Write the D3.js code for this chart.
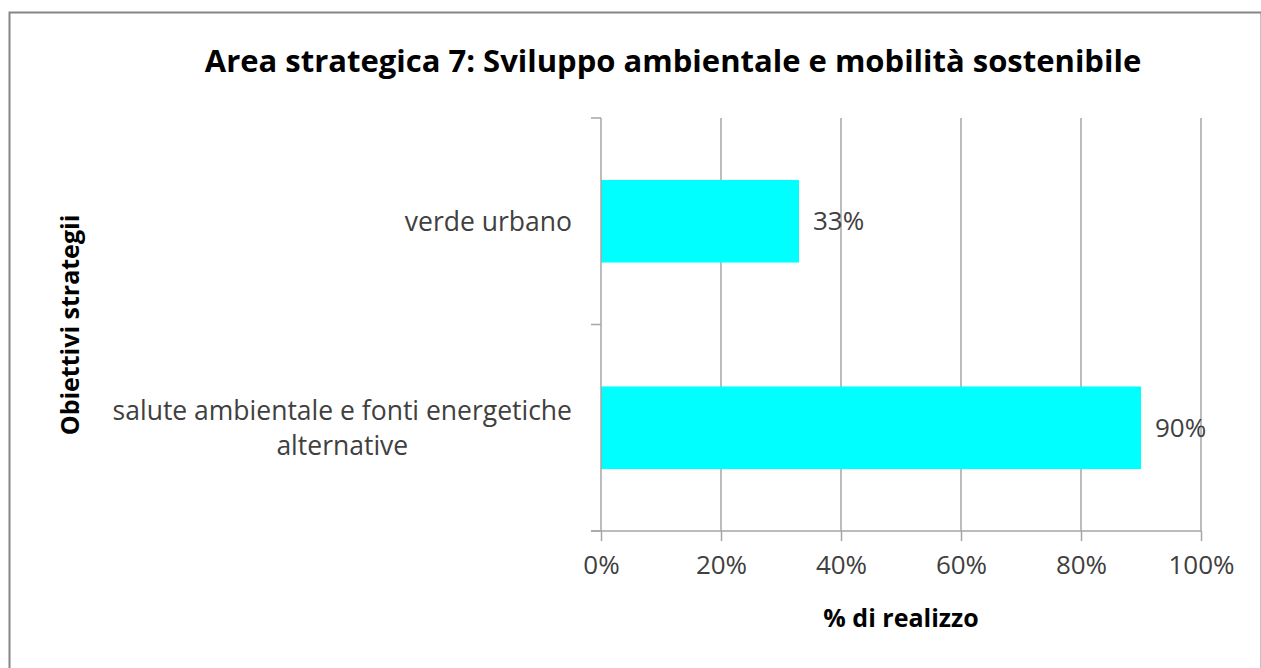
<!DOCTYPE html>
<html>
<head>
<meta charset="utf-8">
<script src="https://cdn.jsdelivr.net/npm/d3@7"></script>
<style>
body { margin: 0; background: #fff; overflow: hidden; }
text { font-family: "Open Sans", "Noto Sans", sans-serif; }
</style>
</head>
<body>
<script>
var categories = ['verde urbano', 'salute ambientale e fonti energetiche alternative'];
var categoryLines = [['verde urbano'], ['salute ambientale e fonti energetiche', 'alternative']];
var values = [0.33, 0.90];
var tickValues = [0, 0.2, 0.4, 0.6, 0.8, 1.0];

var W = 1261, H = 668;
var svg = d3.select('body').append('svg').attr('width', W).attr('height', H);

// cornice esterna
svg.append('rect')
    .attr('x', 9.5).attr('y', 12.5)
    .attr('width', 1252).attr('height', 670)
    .attr('fill', 'none').attr('stroke', '#868686').attr('stroke-width', 2);

var pLeft = 601, pRight = 1201, pTop = 118, pBottom = 531;

var x = d3.scaleLinear().domain([0, 1]).range([pLeft, pRight]);
var y = d3.scaleBand().domain(categories).range([pTop, pBottom]).padding(0);

// griglia verticale
svg.selectAll('line.grid')
    .data(tickValues.slice(1))
    .enter().append('line')
    .attr('class', 'grid')
    .attr('x1', function(d){ return x(d); }).attr('x2', function(d){ return x(d); })
    .attr('y1', pTop).attr('y2', pBottom)
    .attr('stroke', '#a6a6a6').attr('stroke-width', 1.5);

// barre
var barH = y.bandwidth() * 0.4;
svg.selectAll('rect.bar')
    .data(values)
    .enter().append('rect')
    .attr('class', 'bar')
    .attr('x', x(0))
    .attr('y', function(d, i){ return y(categories[i]) + (y.bandwidth() - barH) / 2; })
    .attr('width', function(d){ return x(d) - x(0); })
    .attr('height', barH)
    .attr('fill', '#00ffff');

// asse x
var xAxis = svg.append('g').attr('transform', 'translate(0,' + pBottom + ')')
    .call(d3.axisBottom(x).tickValues(tickValues).tickFormat(d3.format('.0%')).tickSize(10).tickPadding(15));
xAxis.select('.domain').attr('stroke', '#a6a6a6').attr('stroke-width', 1.5).attr('d', 'M' + (pLeft - 10) + ',0H' + pRight);
xAxis.selectAll('.tick line').attr('stroke', '#a6a6a6').attr('stroke-width', 1.5);
xAxis.selectAll('.tick text').attr('font-size', 26).attr('fill', '#404040')
    .attr('font-family', '"Open Sans", "Noto Sans", sans-serif');

// asse y
var yAxis = svg.append('g').attr('transform', 'translate(' + pLeft + ',0)');
yAxis.append('line').attr('x1', 0).attr('x2', 0).attr('y1', pTop).attr('y2', pBottom)
    .attr('stroke', '#a6a6a6').attr('stroke-width', 1.5);
var yTicks = [pTop].concat(categories.map(function(c){ return y(c) + y.bandwidth(); }));
yAxis.selectAll('line.tk')
    .data(yTicks)
    .enter().append('line')
    .attr('class', 'tk')
    .attr('x1', -10).attr('x2', 0)
    .attr('y1', function(d){ return d; }).attr('y2', function(d){ return d; })
    .attr('stroke', '#a6a6a6').attr('stroke-width', 1.5);

// etichette categorie
var labelRight = 572, lineH = 35;
categoryLines.forEach(function(lines, i){
    var g = svg.append('g');
    var cy = y(categories[i]) + y.bandwidth() / 2;
    var t = g.selectAll('text').data(lines).enter().append('text')
        .attr('font-size', 26.5).attr('fill', '#404040')
        .attr('dy', '0.35em')
        .attr('y', function(d, j){ return cy + (j - (lines.length - 1) / 2) * lineH; })
        .text(function(d){ return d; });
    var maxW = 0;
    t.each(function(){ maxW = Math.max(maxW, this.getComputedTextLength()); });
    t.attr('text-anchor', 'middle').attr('x', labelRight - maxW / 2);
});

// etichette valori
svg.selectAll('text.val')
    .data(values)
    .enter().append('text')
    .attr('class', 'val')
    .attr('x', function(d){ return x(d) + 14; })
    .attr('y', function(d, i){ return y(categories[i]) + y.bandwidth() / 2; })
    .attr('dy', '0.35em')
    .attr('font-size', 26).attr('fill', '#404040')
    .text(function(d){ return d3.format('.0%')(d); });

// titoli
svg.append('text')
    .attr('x', 673).attr('y', 72)
    .attr('text-anchor', 'middle')
    .attr('font-size', 31).attr('font-weight', 'bold').attr('fill', '#000')
    .text('Area strategica 7: Sviluppo ambientale e mobilità sostenibile');

svg.append('text')
    .attr('x', 901).attr('y', 627)
    .attr('text-anchor', 'middle')
    .attr('font-size', 25).attr('font-weight', 'bold').attr('fill', '#000')
    .text('% di realizzo');

svg.append('text')
    .attr('transform', 'translate(79,325) rotate(-90)')
    .attr('text-anchor', 'middle')
    .attr('font-size', 25).attr('font-weight', 'bold').attr('fill', '#000')
    .text('Obiettivi strategii');
</script>
</body>
</html>
